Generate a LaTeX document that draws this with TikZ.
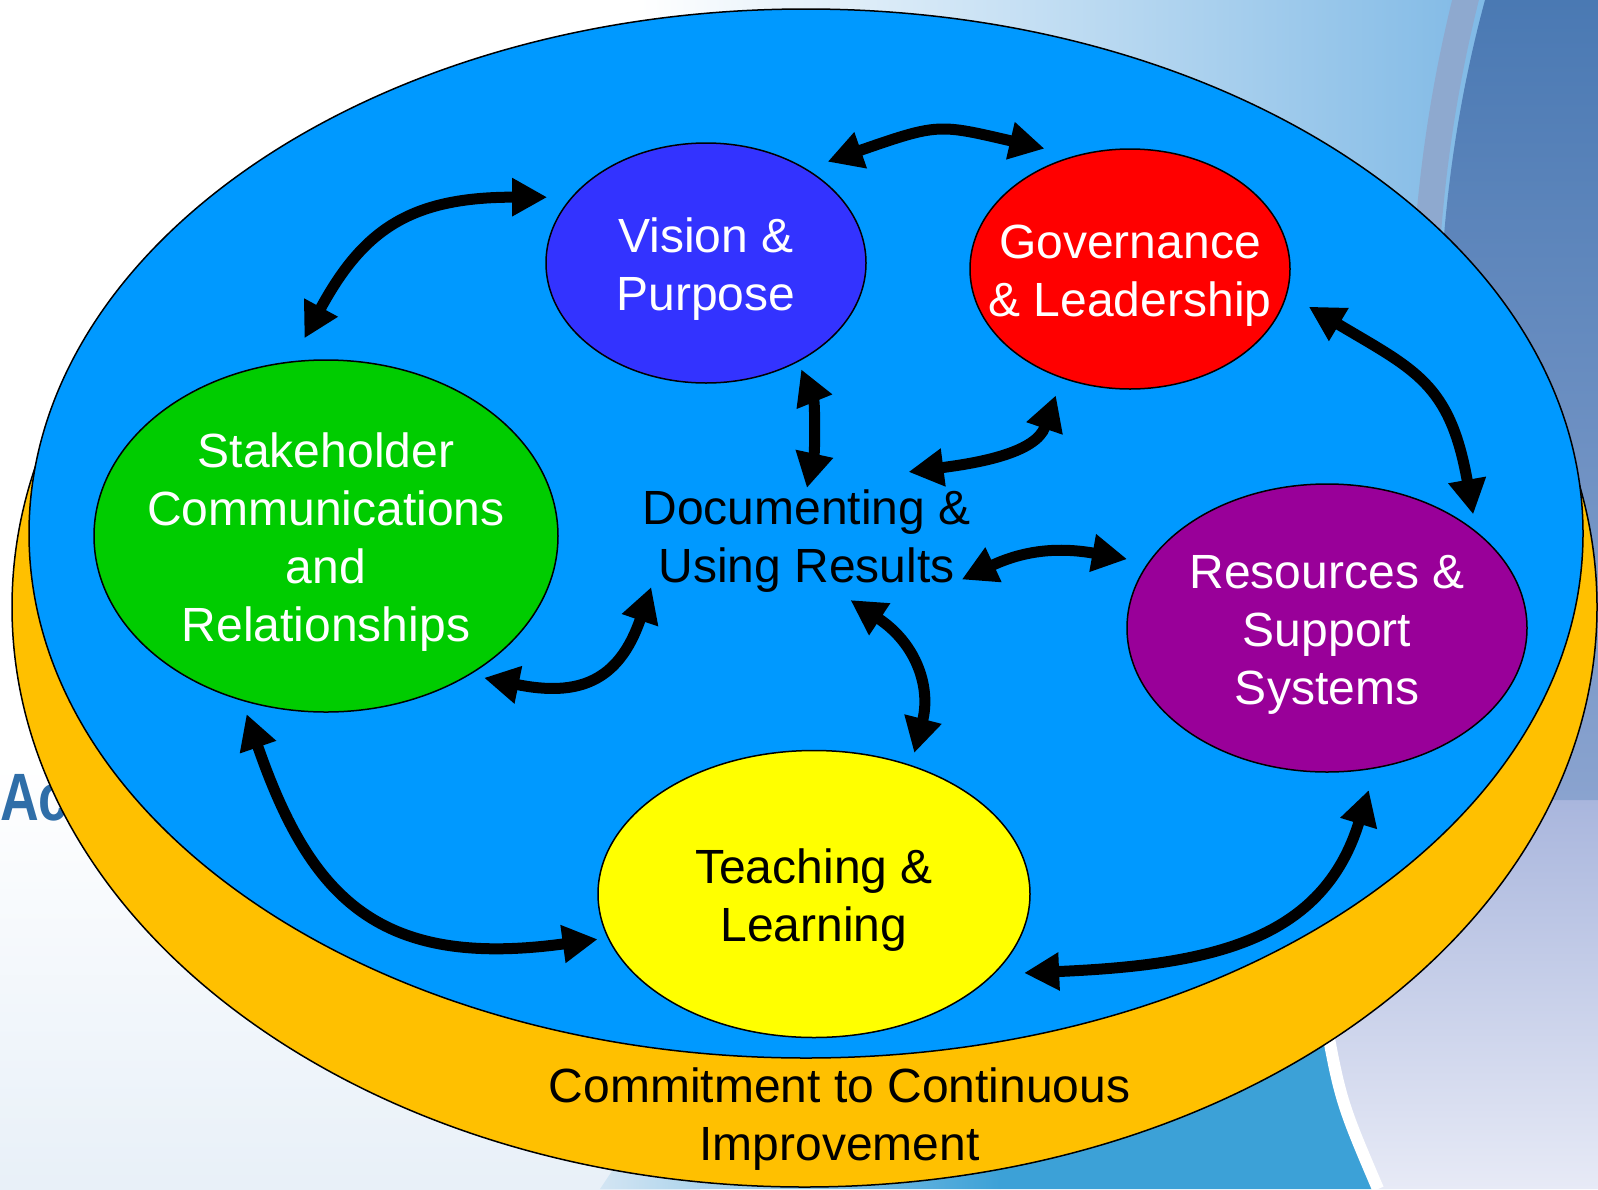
\documentclass[tikz,border=0pt]{standalone}
\usepackage{fontspec}
\setmainfont{Liberation Sans}
\usetikzlibrary{arrows.meta,shapes.geometric}
\definecolor{ringY}{HTML}{FFC000}
\definecolor{discB}{HTML}{0099FF}
\definecolor{visC}{HTML}{3333FF}
\definecolor{govC}{HTML}{FF0000}
\definecolor{stkC}{HTML}{00CC00}
\definecolor{resC}{HTML}{990099}
\definecolor{tchC}{HTML}{FFFF00}
\definecolor{bgLight}{HTML}{6FB0E2}
\definecolor{bgDarkTop}{HTML}{4A79B3}
\definecolor{bgDarkBot}{HTML}{8AA3CF}
\definecolor{bgBand}{HTML}{8EA9CF}
\definecolor{bgLavTop}{HTML}{A9B6DD}
\definecolor{bgLavBot}{HTML}{E7EAF6}
\definecolor{bgMid}{HTML}{3CA1D7}
\definecolor{bgPale}{HTML}{D3E5F3}
\definecolor{bgFaint}{HTML}{E8F0F8}
\definecolor{acText}{HTML}{2F6EA8}
\newcommand\myTopStrut{\rule{0pt}{47pt}}
\begin{document}
\begin{tikzpicture}[x=1pt,y=-1pt,
  txt/.style={font=\fontsize{48}{58}\selectfont, align=center},
  bub/.style={ellipse, draw=black, line width=1.5pt, inner xsep=-60pt, inner ysep=0pt, txt},
  big/.style={ellipse, draw=black, line width=1.5pt, inner sep=0pt},
  lbl/.style={inner sep=0pt, txt},
  link/.style={line width=11pt, >={Triangle[length=35pt,width=36pt]}, <->}]
\useasboundingbox (0,0) rectangle (1598,1189);
% ---------- background ----------
\fill[white] (0,0) rectangle (1598,1189);
\shade[left color=white, right color=bgLight] (640,0) rectangle (1598,760);
\shade[top color=white, bottom color=bgFaint] (0,760) rectangle (700,1189);
\shade[left color=bgPale, right color=bgMid] (600,1189) -- (700,1040) -- (1000,1040) -- (1000,1189) -- cycle;
\fill[bgMid] (1000,1189) -- (1000,1040) -- (1328,1030) .. controls (1342,1110) .. (1372,1189) -- cycle;
\shade[top color=bgLavTop, bottom color=bgLavBot] (1372,1189) .. controls (1342,1110) .. (1328,1030) -- (1328,800) -- (1598,800) -- (1598,1189) -- cycle;
\draw[white, line width=12pt] (1322,1000) .. controls (1340,1100) .. (1378,1189);
\shade[top color=bgDarkTop, bottom color=bgDarkBot] (1485,0) .. controls (1458,100) and (1444,200) .. (1440,300) -- (1430,800) -- (1598,800) -- (1598,0) -- cycle;
\draw[bgBand, line width=26pt] (1468,-10) .. controls (1440,100) and (1428,200) .. (1424,300);
\node[anchor=base west, inner sep=0pt, text=acText, font=\bfseries\fontsize{67}{67}\selectfont] (ac) at (0,820) {\scalebox{0.8}[1]{Ac}};
% ---------- discs ----------
\node[big, fill=ringY, minimum width=1585pt, minimum height=1160pt] (ring) at (804.5,607) {};
\node[big, fill=discB, minimum width=1554pt, minimum height=1049pt] (disc) at (806,533.5) {};
% ---------- elements ----------
\node[bub, fill=visC, text=white, minimum width=320pt, minimum height=240pt] (vis) at (706,263) {\myTopStrut Vision \&\\Purpose};
\node[bub, fill=govC, text=white, minimum width=320pt, minimum height=240pt] (gov) at (1130,269) {\myTopStrut Governance\\\& Leadership};
\node[bub, fill=stkC, text=white, minimum width=464pt, minimum height=352pt] (stk) at (326,536) {\myTopStrut Stakeholder\\Communications\\and\\Relationships};
\node[bub, fill=resC, text=white, minimum width=400pt, minimum height=288pt] (res) at (1327,628) {\myTopStrut Resources \&\\Support\\Systems};
\node[bub, fill=tchC, text=black, minimum width=432pt, minimum height=287pt] (tch) at (814,894) {\myTopStrut Teaching \&\\Learning};
\node[lbl] (docs) at (806.5,541.5) {Documenting \&\\Using Results};
\node[lbl] (cci) at (839.5,1118.7) {Commitment to Continuous\\Improvement};
% ---------- connectors ----------
\draw[link, shorten <=26pt, shorten >=24pt] (stk.101) .. controls (363,230) and (410,197) .. (vis.154);
\draw[link, shorten <=22pt, shorten >=31pt] (vis.43) .. controls (939,123) and (938,124) .. (gov.116);
\draw[link, shorten <=8pt, shorten >=2pt] (vis.313.5) .. controls (815,403) and (815,451) .. (docs.north);
\draw[link, shorten <=18pt] (gov.238.3) .. controls (1036,453) and (978,463) .. ([shift={(102,-18)}]docs.north);
\draw[link, shorten <=25pt, shorten >=17pt] (gov.351.7) .. controls (1415,370) and (1450,383) .. (res.33.4);
\draw[link, shorten >=21pt] ([shift={(-9,38)}]docs.east) .. controls (1025,550) and (1059,547) .. (res.160.8);
\draw[link, shorten <=14.5pt] (stk.316.5) .. controls (578,697) and (619,682) .. ([shift={(9,-6)}]docs.south west);
\draw[link, shorten >=12.5pt] ([shift={(44,7)}]docs.south) .. controls (917,644) and (931,688) .. (tch.53.9);
\draw[link, shorten <=14pt, shorten >=10pt] (stk.243.4) .. controls (311,900) and (380,969) .. (tch.192);
\draw[link, shorten <=30pt, shorten >=22.5pt] (tch.336) .. controls (1213,965) and (1323,940) .. (res.289.3);
\end{tikzpicture}
\end{document}
